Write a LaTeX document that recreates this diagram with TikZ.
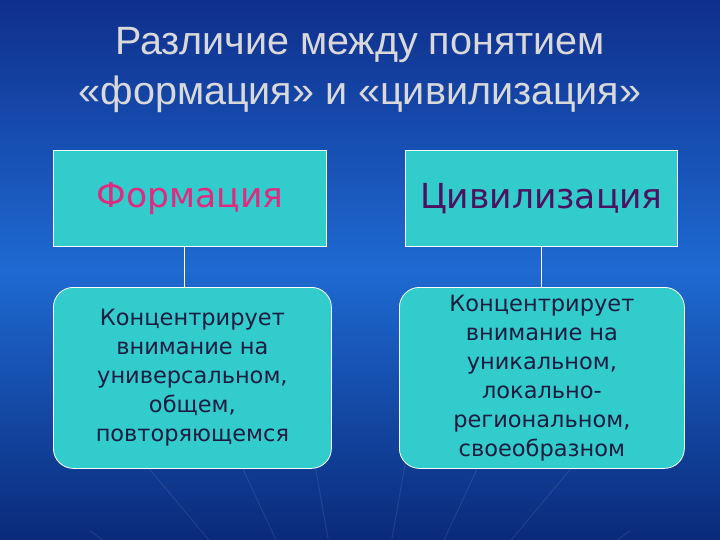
\documentclass[tikz,border=0pt]{standalone}
\usepackage{fontspec}
\setmainfont{Liberation Sans}
\newfontfamily\verd{DejaVu Sans}
\definecolor{bgtop}{HTML}{0F2F8C}
\definecolor{bgmid}{HTML}{1E6AD2}
\definecolor{bgbot}{HTML}{0A2A7A}
\definecolor{turq}{HTML}{33CCCC}
\definecolor{pinkt}{HTML}{E02A80}
\definecolor{purpt}{HTML}{4A1260}
\definecolor{darkt}{HTML}{1C1C40}
\begin{document}
\begin{tikzpicture}[x=1pt,y=-1pt,
  topbox/.style={draw=white,line width=0.8pt,fill=turq,minimum width=273pt,minimum height=96pt,inner sep=0pt,font=\verd\fontsize{34.5}{40}\selectfont},
  lowbox/.style={draw=white,line width=0.8pt,fill=turq,rounded corners=20pt,minimum height=181pt,inner sep=0pt,align=center,font=\verd\fontsize{22.5}{29}\selectfont,text=darkt},
  link/.style={draw=white,line width=1pt}]
\useasboundingbox (0,0) rectangle (720,540);
\fill[top color=bgtop,bottom color=bgmid] (0,0) rectangle (720,270);
\fill[top color=bgmid,bottom color=bgbot] (0,270) rectangle (720,540);
\foreach \a in {-70,-55,-40,-25,-10,10,25,40,55,70}
  \draw[white,opacity=0.1,line width=0.8pt] (360,720) -- ++(90+\a:-330);
\node[text=white!85!black,font=\fontsize{39.5}{50}\selectfont,align=center] (title) at (360,70) {Различие между понятием\\«формация» и «цивилизация»};
\node[topbox,text=pinkt,anchor=north west] (f) at (53,150) {Формация};
\node[topbox,text=purpt,anchor=north west,minimum width=272pt] (c) at (405,150) {Цивилизация};
\node[lowbox,minimum width=278pt,anchor=north west] (fl) at (53,287) {Концентрирует\\внимание на\\универсальном,\\общем,\\повторяющемся};
\node[lowbox,minimum width=285pt,anchor=north west] (cl) at (399,287) {Концентрирует\\внимание на\\уникальном,\\локально-\\региональном,\\своеобразном};
\draw[link] (f.south -| 184,0) -- (fl.north -| 184,0);
\draw[link] (c.south -| 541,0) -- (cl.north -| 541,0);
\end{tikzpicture}
\end{document}
